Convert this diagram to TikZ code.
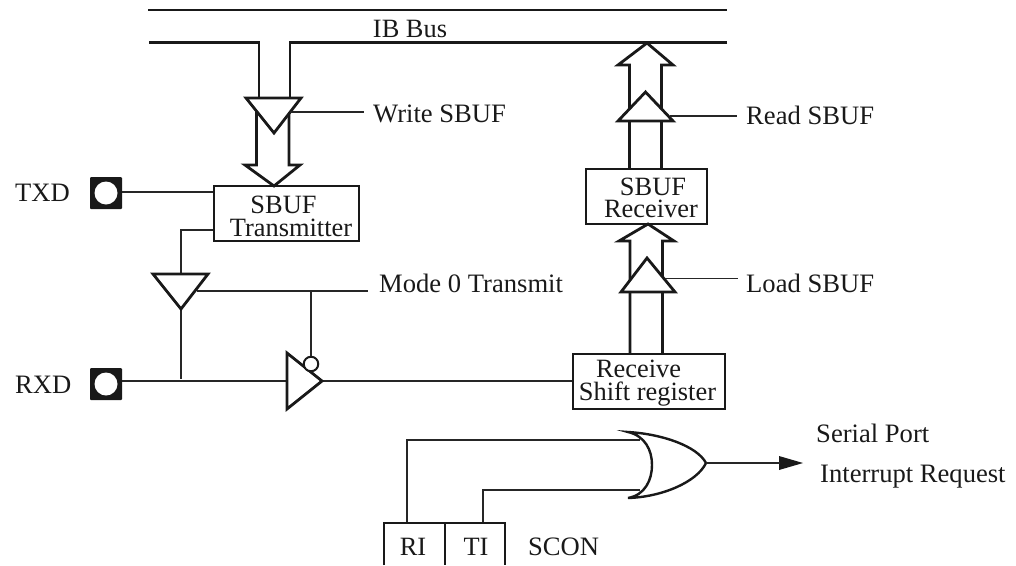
\documentclass[tikz,border=0pt]{standalone}
\usepackage{fontspec}
\setmainfont{Liberation Serif}
\tikzset{
  x=1pt,y=-1pt,
  thickline/.style={line width=2.8pt,draw=black!90,line join=miter},
  thinline/.style={line width=1.3pt,draw=black!85},
  boxnode/.style={draw=black!90,line width=2.8pt,fill=white,inner sep=0pt,minimum width=#1,minimum height=55pt},
  gate/.style={line width=2.8pt,draw=black!90,fill=white,line join=miter},
  label/.style={inner sep=0pt,anchor=base west,text=black!90,font=\fontsize{26.6}{26.6}\selectfont},
  clabel/.style={inner sep=0pt,anchor=base,text=black!90,font=\fontsize{26.4}{26.4}\selectfont},
  pinsq/.style={fill=black!90,rounded corners=1pt,minimum size=32pt,inner sep=0pt},
  pinhole/.style={circle,fill=white,minimum size=23pt,inner sep=0pt},
  bubble/.style={circle,draw=black!90,line width=2pt,fill=white,minimum size=14.5pt,inner sep=0pt}
}
\begin{document}
\begin{tikzpicture}
\useasboundingbox (0,0) rectangle (1016,565);
% bus
\coordinate (busTopL) at (148,10); \coordinate (busTopR) at (727,10);
\coordinate (busL) at (149,42.5); \coordinate (busR) at (727,42.5);
\coordinate (tapL) at (259,42.5); \coordinate (tapR) at (290,42.5);
\draw[thickline] (busTopL) -- (busTopR);
\draw[thickline] (busL) -- (tapL) -- (259,98);
\draw[thickline] (busR) -- (tapR) -- (290,98);
\node[clabel] (ibbus) at (410,37) {IB Bus};
% boxes
\node[boxnode=145pt] (tx) at (286.5,213.5) {};
\node[boxnode=121pt] (rx) at (646.5,196.5) {};
\node[boxnode=152pt] (sr) at (649,381.5) {};
\node[clabel] (txa) at (283.5,213) {SBUF};
\node[clabel] (txb) at (291,236) {Transmitter};
\node[clabel] (rxa) at (653,195) {SBUF};
\node[clabel] (rxb) at (651,217) {Receiver};
\node[clabel] (sra) at (638.5,377) {Receive};
\node[clabel] (srb) at (647.5,400) {Shift register};
% write path
\draw[thickline] (256.5,112) -- (256.5,165) -- (245,165) -- (274,186) -- (300,165) -- (289,165) -- (289,112);
\draw[gate] (246,98) -- (301,98) -- (274,133) -- cycle;
\coordinate (wr) at (290,112);
\coordinate (wrEnd) at (364,112);
\draw[thinline] (wr) -- (wrEnd);
\node[label] (wrl) at (373,122) {Write SBUF};
% read path
\draw[thickline] (629.5,169) -- (629.5,65) -- (618,65) -- (647,43) -- (673,65) -- (661.5,65) -- (661.5,169);
\draw[gate] (618,121) -- (673,121) -- (645.5,92) -- cycle;
\coordinate (rd) at (670,116);
\coordinate (rdEnd) at (737,116);
\draw[thinline] (rd) -- (rdEnd);
\node[label] (rdl) at (746,124) {Read SBUF};
% load path
\draw[thickline] (630,354) -- (630,241) -- (619,241) -- (648,224) -- (674,241) -- (662.5,241) -- (662.5,354);
\draw[gate] (621,292) -- (675,292) -- (647,258) -- cycle;
\coordinate (ld) at (665,278.5);
\coordinate (ldEnd) at (738,278.5);
\draw[thinline] (ld) -- (ldEnd);
\node[label] (ldl) at (746,292) {Load SBUF};
% pins
\node[pinsq] (txdsq) at (106,193) {};
\node[pinhole] (txdh) at (106,193) {};
\node[pinsq] (rxdsq) at (106,384) {};
\node[pinhole] (rxdh) at (106,384) {};
\node[label] (txd) at (15,201) {TXD};
\node[label] (rxd) at (15,393) {RXD};
\coordinate (txin) at (tx.west |- 0,192);
\draw[thinline] (txdsq.east |- txin) -- (txin);
% driver
\coordinate (txout) at (tx.west |- 0,230);
\coordinate (drvIn) at (181,274);
\coordinate (drvOut) at (181,309);
\coordinate (rxJoin) at (181,379);
\draw[thinline] (txout) -- (181,230) -- (drvIn);
\draw[thinline] (drvOut) -- (rxJoin);
\coordinate (en) at (197,291);
\coordinate (enEnd) at (368,291);
\coordinate (enTap) at (311,291);
\draw[thinline] (en) -- (enEnd);
\draw[gate] (153,274) -- (208,274) -- (drvOut) -- cycle;
\node[label] (model) at (379,292) {Mode 0 Transmit};
% inverter
\coordinate (invIn) at (287,381);
\coordinate (invOut) at (322,381);
\draw[thinline] (rxdsq.east |- invIn) -- (invIn);
\draw[thinline] (invOut) -- (sr.west |- invOut);
\draw[gate] (287,353) -- (invOut) -- (287,409) -- cycle;
\node[bubble] (bub) at (311,364) {};
\draw[thinline] (enTap) -- (bub.north);
% OR gate
\coordinate (orT) at (628,432); \coordinate (orB) at (628,498); \coordinate (orOut) at (706,463);
\coordinate (riIn) at (640,440); \coordinate (tiIn) at (640,490);
\draw[thinline] (407,523) -- (407,440) -- (riIn);
\draw[thinline] (483,523) -- (483,490) -- (tiIn);
\draw[line width=2.4pt,draw=black!90,fill=white,line join=miter]
  (orT) .. controls (662,434) and (697,446) .. (orOut)
  .. controls (697,482) and (662,497) .. (orB)
  .. controls (645,495) and (652,480) .. (652,465)
  .. controls (652,450) and (645,436) .. (orT) -- cycle;
\fill[black!90] (803,463) -- (779,456) -- (779,470) -- cycle;
\coordinate (arrowTail) at (780,463);
\draw[thinline] (orOut) -- (arrowTail);
\node[label] (sp1) at (816,442) {Serial Port};
\node[label] (sp2) at (820,482) {Interrupt  Request};
% SCON
\draw[thickline] (384,565) -- (384,523) -- (505,523) -- (505,565);
\draw[thickline] (445,523) -- (445,565);
\node[clabel] (ri) at (413,555) {RI};
\node[clabel] (ti) at (476,555) {TI};
\node[label] (scon) at (528,555) {SCON};
\end{tikzpicture}
\end{document}
